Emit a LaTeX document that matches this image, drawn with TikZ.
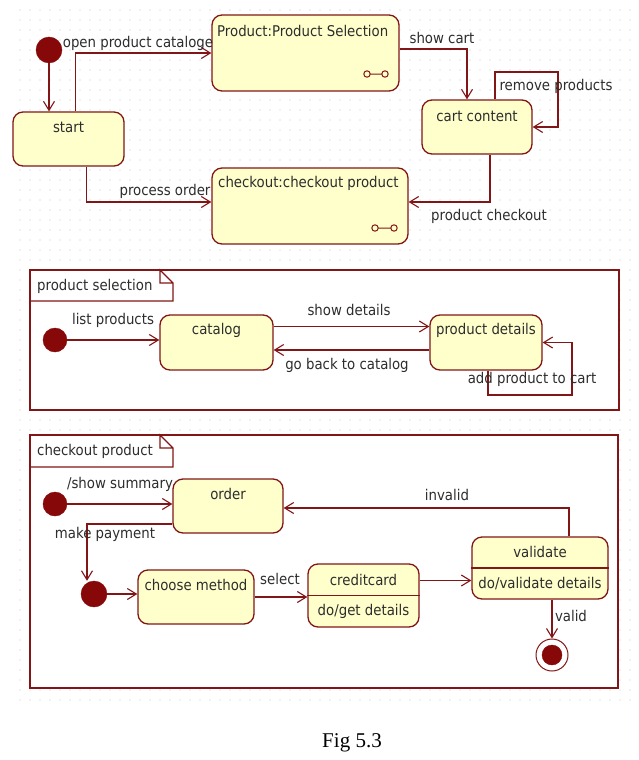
\documentclass[tikz,border=0pt]{standalone}
\usepackage{fontspec}
\setmainfont{DejaVu Sans Condensed}
\newfontfamily\capfont{Liberation Serif}
\usetikzlibrary{arrows.meta,patterns.meta}

\definecolor{umlline}{RGB}{130,22,22}
\definecolor{umlfill}{RGB}{255,255,204}
\definecolor{umlbullet}{RGB}{135,8,8}
\definecolor{umltext}{RGB}{45,45,45}
\definecolor{gridgray}{RGB}{200,200,200}

\begin{document}
\begin{tikzpicture}[x=1pt,y=-1pt,
  statebox/.style={draw=umlline, fill=umlfill, line width=1.3pt, rounded corners=10pt, inner sep=0pt},
  initstate/.style={circle, fill=umlbullet, draw=umlbullet, inner sep=0pt, minimum size=#1},
  initstate/.default=24pt,
  tr/.style={draw=umlline, line width=1.1pt, -{Straight Barb[length=9pt,width=11pt,line width=1.1pt]}},
  lbl/.style={text=umltext, inner sep=0pt, font=\fontsize{14.8}{17}\selectfont},
  framebox/.style={draw=umlline, fill=white, line width=1.2pt, inner sep=0pt},
  tabline/.style={draw=umlline, line width=1.2pt, line join=miter},
  divider/.style={draw=umlline, line width=1.2pt},
  subicon/.style={draw=umlline, line width=1pt}
]
\useasboundingbox (0,0) rectangle (639,760);
\fill[white] (0,0) rectangle (639,760);
% dotted drawing canvas
\fill[pattern={Dots[radius=0.7pt,distance=10pt]}, pattern color=gridgray] (12,5) rectangle (632,706);

% ---------------- top level state machine ----------------
\node[initstate=26pt] (init1) at (49,50) {};
\node[statebox, minimum width=111pt, minimum height=54pt] (start) at (68.5,139) {};
\node[statebox, minimum width=187pt, minimum height=76pt] (prod) at (305.5,53) {};
\node[statebox, minimum width=110pt, minimum height=54pt] (cart) at (477,127) {};
\node[statebox, minimum width=196pt, minimum height=76pt] (chk) at (310,206) {};

\node[lbl] (t-start) at (68.5,127) {start};
\node[lbl, anchor=west] (t-prod) at (217,31) {Product:Product Selection};
\node[lbl] (t-cart) at (477,116) {cart content};
\node[lbl, anchor=west] (t-chk) at (218,183) {checkout:checkout product};

% submachine icons
\draw[subicon] (367,74) circle (3.2pt) (370.2,74) -- (381.8,74) (385,74) circle (3.2pt);
\draw[subicon] (375,228) circle (3.2pt) (378.2,228) -- (390.8,228) (394,228) circle (3.2pt);

\coordinate (rp) at (558,72);
\draw[tr] (init1) -- (init1 |- start.north);
\draw[tr] ([xshift=7pt]start.north) |- (prod.west);
\draw[tr] ([yshift=4pt]prod.east) -| ([xshift=-10pt]cart.north);
\draw[tr] ([xshift=18pt]cart.north) |- (rp) |- (cart.east);
\draw[tr] ([xshift=13pt]cart.south) |- ([yshift=4pt]chk.east);
\draw[tr] ([xshift=18pt]start.south) |- ([yshift=4pt]chk.west);

\node[lbl] (l-open) at (138,43) {open product cataloge};
\node[lbl] (l-showcart) at (442,38) {show cart};
\node[lbl] (l-remove) at (556,86) {remove products};
\node[lbl] (l-pchk) at (489,216) {product checkout};
\node[lbl] (l-proc) at (165,191) {process order};

% ---------------- product selection ----------------
\node[framebox, minimum width=589pt, minimum height=140pt] (psframe) at (324.5,340) {};
\draw[tabline] (30,301) -- (173,301) -- (173,283) -- (160,270) -- (160,283) -- (173,283);
\node[lbl, anchor=west] (t-ps) at (37,286) {product selection};

\node[initstate] (init2) at (55,340) {};
\node[statebox, minimum width=113pt, minimum height=55pt] (catalog) at (216.5,342.5) {};
\node[statebox, minimum width=112pt, minimum height=55pt] (pdet) at (486,342.5) {};
\node[lbl] (t-catalog) at (216.5,330) {catalog};
\node[lbl] (t-pdet) at (486,330) {product details};

\coordinate (ap) at (572,395);
\draw[tr] (init2) -- (init2 -| catalog.west);
\draw[tr] ([yshift=16pt]catalog.east) -- ([yshift=16pt]catalog.east -| pdet.west);
\draw[tr] ([yshift=-7.5pt]pdet.west) -- ([yshift=-7.5pt]pdet.west -| catalog.east);
\draw[tr] ([xshift=2pt]pdet.south) |- (ap) |- (pdet.east);

\node[lbl] (l-list) at (113,320) {list products};
\node[lbl] (l-showdet) at (349,310) {show details};
\node[lbl] (l-back) at (347,365) {go back to catalog};
\node[lbl] (l-add) at (532,379) {add product to cart};

% ---------------- checkout product ----------------
\node[framebox, minimum width=588pt, minimum height=253pt] (coframe) at (324,561.5) {};
\draw[tabline] (30,467) -- (173,467) -- (173,448) -- (160,435) -- (160,448) -- (173,448);
\node[lbl, anchor=west] (t-co) at (37,451) {checkout product};

\node[initstate] (init3) at (55,504) {};
\node[initstate=26pt] (init4) at (94,594) {};
\node[statebox, minimum width=110pt, minimum height=54pt] (order) at (228,506) {};
\node[statebox, minimum width=116pt, minimum height=54pt] (choose) at (196,597) {};
\node[statebox, minimum width=111pt, minimum height=63pt] (cc) at (363.5,595.5) {};
\node[statebox, minimum width=136pt, minimum height=62pt] (validate) at (540,568) {};
\node[circle, draw=umlline, fill=white, line width=1pt, inner sep=0pt, minimum size=32pt] (final) at (552,655) {};
\node[initstate=20pt] (finaldot) at (final) {};

\draw[divider] (cc.west) -- (cc.east);
\draw[divider] (validate.west) -- (validate.east);

\node[lbl] (t-order) at (228,494) {order};
\node[lbl] (t-choose) at (196,585) {choose method};
\node[lbl] (t-cc) at (363.5,580) {creditcard};
\node[lbl] (t-ccdo) at (363.5,611) {do/get details};
\node[lbl] (t-val) at (540,552) {validate};
\node[lbl] (t-valdo) at (540,584) {do/validate details};

\draw[tr] (init3) -- (init3 -| order.west);
\draw[tr] ([xshift=29pt]validate.north) |- ([yshift=-2pt]order.east);
\draw[tr] ([yshift=-18pt]order.west) -| ([xshift=-7pt]init4.north);
\draw[tr] (init4) -- (init4 -| choose.west);
\draw[tr] (choose.east) -- (choose.east -| cc.west);
\draw[tr] ([yshift=15pt]cc.east) -- ([yshift=15pt]cc.east -| validate.west);
\draw[tr] ([xshift=12pt]validate.south) -- (final.north);

\node[lbl] (l-sum) at (120,484) {/show summary};
\node[lbl] (l-inv) at (447,495) {invalid};
\node[lbl] (l-pay) at (105,534) {make payment};
\node[lbl] (l-sel) at (280,579) {select};
\node[lbl] (l-valid) at (571,616) {valid};

% caption
\node[font=\capfont\fontsize{21}{25}\selectfont, inner sep=0pt] (caption) at (352,743) {Fig 5.3};
\end{tikzpicture}
\end{document}
